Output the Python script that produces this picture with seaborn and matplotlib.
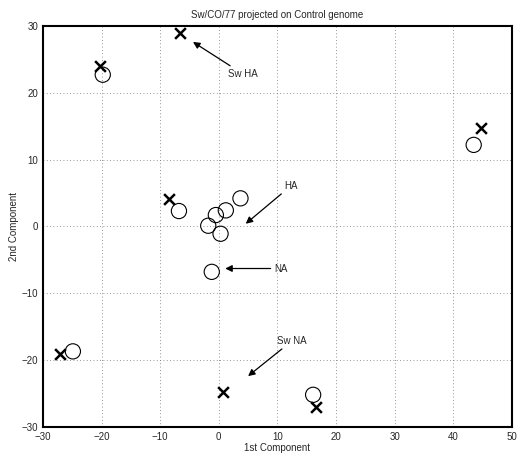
import matplotlib
matplotlib.use("Agg")
import matplotlib.pyplot as plt
import seaborn as sns
import pandas as pd

# Data
cross_x = [-20.3, -6.6, 44.7, -8.5, -27.1, 0.7, 16.6]
cross_y = [24.0, 29.0, 14.7, 4.1, -19.1, -24.8, -27.0]
circle_x = [-19.8, 43.5, -6.8, -1.8, -0.5, 1.2, 3.7, 0.3, -1.2, -24.9, 16.1]
circle_y = [22.7, 12.2, 2.3, 0.1, 1.7, 2.4, 4.2, -1.1, -6.8, -18.7, -25.2]
ann_labels = ["Sw HA", "HA", "NA", "Sw NA"]
ann_text_x = [1.6, 11.2, 9.4, 10.0]
ann_text_y = [22.8, 6.1, -6.3, -17.1]
ann_tip_x = [-4.4, 4.6, 1.1, 5.0]
ann_tip_y = [27.6, 0.4, -6.3, -22.4]
x_ticks = [-30, -20, -10, 0, 10, 20, 30, 40, 50]
y_ticks = [-30, -20, -10, 0, 10, 20, 30]

sns.set_style("white")
plt.rcParams['font.family'] = ['Liberation Sans', 'DejaVu Sans']

fig = plt.figure(figsize=(5.18, 4.63), dpi=100)
ax = fig.add_axes([0.083, 0.078, 0.905, 0.866])

circles = pd.DataFrame({"x": circle_x, "y": circle_y})
crosses = pd.DataFrame({"x": cross_x, "y": cross_y})

sns.scatterplot(data=circles, x="x", y="y", ax=ax, marker="o", s=120,
                facecolor="none", edgecolor="black", linewidth=0.8, zorder=3)
sns.scatterplot(data=crosses, x="x", y="y", ax=ax, marker="x", s=60,
                color="black", linewidth=1.8, zorder=4)

for lab, tx, ty, px, py in zip(ann_labels, ann_text_x, ann_text_y, ann_tip_x, ann_tip_y):
    ax.annotate(lab, xy=(px, py), xytext=(tx, ty), fontsize=7, ha="left", va="center",
                arrowprops=dict(arrowstyle="-|>", color="black", lw=0.9,
                                mutation_scale=10, shrinkA=0, shrinkB=0))

ax.set_xlim(-30, 50)
ax.set_ylim(-30, 30)
ax.set_xticks(x_ticks)
ax.set_yticks(y_ticks)
ax.grid(True, linestyle=(0, (1, 3)), color="0.45", linewidth=0.6)
ax.tick_params(direction="in", length=4, labelsize=7, width=1)
for sp in ax.spines.values():
    sp.set_linewidth(1.5)
    sp.set_color("black")
ax.set_xlabel("1st Component", fontsize=7, labelpad=1)
ax.set_ylabel("2nd Component", fontsize=7, labelpad=2)
ax.set_title("Sw/CO/77 projected on Control genome", fontsize=7, pad=6)

fig.savefig("out.png", dpi=100)
